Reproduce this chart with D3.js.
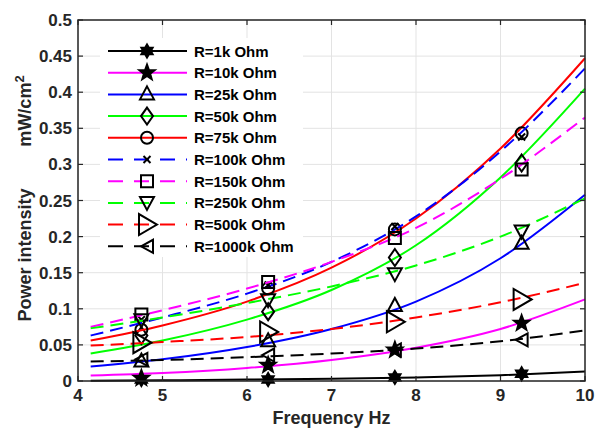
<!DOCTYPE html>
<html>
<head>
<meta charset="utf-8">
<script src="https://cdn.jsdelivr.net/npm/d3@7"></script>
<style>
  html, body { margin: 0; padding: 0; background: #fff; }
  svg text { font-family: "Liberation Sans", Arial, sans-serif; font-weight: bold; }
</style>
</head>
<body>
<svg id="chart" width="595" height="428"></svg>
<script>
// Fitted curves, sampled along the frequency axis (Hz)
const curveFreqs = [4.15, 5, 6, 7, 8, 9, 10];
const r1k    = [0.0005, 0.001, 0.002, 0.003, 0.005, 0.008, 0.013];
const r10k   = [0.0075, 0.011, 0.018, 0.029, 0.046, 0.072, 0.113];
const r25k   = [0.020, 0.030, 0.047, 0.072, 0.110, 0.170, 0.258];
const r50k   = [0.038, 0.056, 0.085, 0.126, 0.188, 0.282, 0.405];
const r75k   = [0.056, 0.077, 0.110, 0.157, 0.225, 0.322, 0.447];
const r100k  = [0.063, 0.088, 0.121, 0.165, 0.228, 0.318, 0.433];
const r150k  = [0.075, 0.098, 0.128, 0.165, 0.212, 0.280, 0.365];
const r250k  = [0.073, 0.088, 0.108, 0.131, 0.160, 0.200, 0.253];
const r500k  = [0.049, 0.054, 0.061, 0.072, 0.088, 0.109, 0.136];
const r1000k = [0.027, 0.029, 0.033, 0.038, 0.045, 0.055, 0.070];

// Measured points
const pointFreqs = [4.75, 6.25, 7.75, 9.25];
const p1k    = [0.002, 0.002, 0.005, 0.010];
const p10k   = [0.004, 0.022, 0.043, 0.080];
const p25k   = [0.027, 0.055, 0.104, 0.190];
const p50k   = [0.063, 0.096, 0.171, 0.302];
const p75k   = [0.071, 0.128, 0.210, 0.343];
const p100k  = [0.085, 0.133, 0.214, 0.338];
const p150k  = [0.092, 0.137, 0.198, 0.293];
const p250k  = [0.084, 0.112, 0.148, 0.207];
const p500k  = [0.053, 0.068, 0.082, 0.113];
const p1000k = [0.030, 0.036, 0.043, 0.057];

const seriesNames = ["R=1k Ohm", "R=10k Ohm", "R=25k Ohm", "R=50k Ohm", "R=75k Ohm",
                     "R=100k Ohm", "R=150k Ohm", "R=250k Ohm", "R=500k Ohm", "R=1000k Ohm"];
const xTicks = [4, 5, 6, 7, 8, 9, 10];
const yTicks = [0, 0.05, 0.1, 0.15, 0.2, 0.25, 0.3, 0.35, 0.4, 0.45, 0.5];
const xLabel = "Frequency Hz";

const curves = [r1k, r10k, r25k, r50k, r75k, r100k, r150k, r250k, r500k, r1000k];
const points = [p1k, p10k, p25k, p50k, p75k, p100k, p150k, p250k, p500k, p1000k];
const colors = ["#000000", "#ff00ff", "#0000ff", "#00ff00", "#ff0000",
                "#0000ff", "#ff00ff", "#00ff00", "#ff0000", "#000000"];
const dashed = [false, false, false, false, false, true, true, true, true, true];
const markers = ["hexagram", "pentagram", "triUp", "diamond", "circle",
                 "cross", "square", "triDown", "triRight", "triLeft"];

const svg = d3.select("#chart");
const m = { left: 78, right: 585, top: 20, bottom: 381 };
const x = d3.scaleLinear().domain([4, 10]).range([m.left, m.right]);
const y = d3.scaleLinear().domain([0, 0.5]).range([m.bottom, m.top]);

// grid
const grid = svg.append("g");
grid.selectAll("line.gx").data(xTicks).join("line")
  .attr("x1", d => x(d)).attr("x2", d => x(d))
  .attr("y1", m.top).attr("y2", m.bottom)
  .attr("stroke", "#e3e3e3").attr("stroke-width", 1);
grid.selectAll("line.gy").data(yTicks).join("line")
  .attr("x1", m.left).attr("x2", m.right)
  .attr("y1", d => y(d)).attr("y2", d => y(d))
  .attr("stroke", "#e3e3e3").attr("stroke-width", 1);

// marker shapes (black outlines)
function markerPath(type) {
  const p = d3.path();
  switch (type) {
    case "circle": p.arc(0, 0, 6, 0, 2 * Math.PI); break;
    case "square": p.rect(-6, -6, 12, 12); break;
    case "diamond": p.moveTo(0, -8.5); p.lineTo(6, 0); p.lineTo(0, 8.5); p.lineTo(-6, 0); p.closePath(); break;
    case "triUp": p.moveTo(0, -8); p.lineTo(7, 5); p.lineTo(-7, 5); p.closePath(); break;
    case "triDown": p.moveTo(0, 7); p.lineTo(7, -6); p.lineTo(-7, -6); p.closePath(); break;
    case "triRight": p.moveTo(10, 0); p.lineTo(-8, -10.5); p.lineTo(-8, 10.5); p.closePath(); break;
    case "triLeft": p.moveTo(-6, 0); p.lineTo(6, -6.5); p.lineTo(6, 6.5); p.closePath(); break;
    case "cross": p.moveTo(-3.5, -3.5); p.lineTo(3.5, 3.5); p.moveTo(3.5, -3.5); p.lineTo(-3.5, 3.5); break;
    case "pentagram": {
      for (let i = 0; i < 10; i++) {
        const r = i % 2 === 0 ? 8 : 3.3;
        const a = -Math.PI / 2 + i * Math.PI / 5;
        if (i === 0) p.moveTo(r * Math.cos(a), r * Math.sin(a)); else p.lineTo(r * Math.cos(a), r * Math.sin(a));
      }
      p.closePath(); break;
    }
    case "hexagram": {
      for (let i = 0; i < 12; i++) {
        const r = i % 2 === 0 ? 6.5 : 3.8;
        const a = -Math.PI / 2 + i * Math.PI / 6;
        if (i === 0) p.moveTo(r * Math.cos(a), r * Math.sin(a)); else p.lineTo(r * Math.cos(a), r * Math.sin(a));
      }
      p.closePath(); break;
    }
  }
  return p.toString();
}
const filledMarker = t => t === "pentagram" || t === "hexagram";

function drawMarker(g, type, cx, cy) {
  g.append("path")
    .attr("d", markerPath(type))
    .attr("transform", `translate(${cx},${cy})`)
    .attr("fill", filledMarker(type) ? "#000" : "none")
    .attr("stroke", "#000")
    .attr("stroke-width", 2)
    .attr("stroke-linejoin", "miter");
}

const line = d3.line().x(d => x(d[0])).y(d => y(d[1])).curve(d3.curveMonotoneX);
const plot = svg.append("g");
curves.forEach((vals, i) => {
  const g = plot.append("g");
  g.append("path")
    .datum(curveFreqs.map((f, j) => [f, vals[j]]))
    .attr("d", line)
    .attr("fill", "none")
    .attr("stroke", colors[i])
    .attr("stroke-width", 2)
    .attr("stroke-dasharray", dashed[i] ? "13,7" : null);
  pointFreqs.forEach((f, j) => drawMarker(g, markers[i], x(f), y(points[i][j])));
});

// axes box and ticks
const axes = svg.append("g");
axes.append("rect")
  .attr("x", m.left).attr("y", m.top)
  .attr("width", m.right - m.left).attr("height", m.bottom - m.top)
  .attr("fill", "none").attr("stroke", "#262626").attr("stroke-width", 1.5);
const tl = 5;
xTicks.forEach(t => {
  axes.append("line").attr("x1", x(t)).attr("x2", x(t)).attr("y1", m.bottom).attr("y2", m.bottom - tl).attr("stroke", "#262626").attr("stroke-width", 1.2);
  axes.append("line").attr("x1", x(t)).attr("x2", x(t)).attr("y1", m.top).attr("y2", m.top + tl).attr("stroke", "#262626").attr("stroke-width", 1.2);
});
yTicks.forEach(t => {
  axes.append("line").attr("x1", m.left).attr("x2", m.left + tl).attr("y1", y(t)).attr("y2", y(t)).attr("stroke", "#262626").attr("stroke-width", 1.2);
  axes.append("line").attr("x1", m.right).attr("x2", m.right - tl).attr("y1", y(t)).attr("y2", y(t)).attr("stroke", "#262626").attr("stroke-width", 1.2);
});
axes.selectAll("text.xt").data(xTicks).join("text")
  .attr("x", d => x(d)).attr("y", m.bottom + 20)
  .attr("text-anchor", "middle").attr("font-size", 17).attr("fill", "#262626")
  .text(d => d);
axes.selectAll("text.yt").data(yTicks).join("text")
  .attr("x", m.left - 6).attr("y", d => y(d) + 6)
  .attr("text-anchor", "end").attr("font-size", 17).attr("fill", "#262626")
  .text(d => d);

// axis titles
svg.append("text").attr("x", x(7)).attr("y", 424)
  .attr("text-anchor", "middle").attr("font-size", 18).attr("fill", "#262626")
  .text(xLabel);
svg.append("text").attr("transform", "translate(31,255) rotate(-90)")
  .attr("text-anchor", "middle").attr("font-size", 18).attr("fill", "#262626")
  .text("Power intensity");
const unit = svg.append("text").attr("transform", "translate(31,111) rotate(-90)")
  .attr("text-anchor", "middle").attr("font-size", 18).attr("fill", "#262626");
unit.append("tspan").text("mW/cm");
unit.append("tspan").attr("dy", -7).attr("font-size", 13).text("2");

// legend
const lg = svg.append("g");
lg.append("rect").attr("x", 100).attr("y", 38).attr("width", 203).attr("height", 219).attr("fill", "#fff");
seriesNames.forEach((name, i) => {
  const ly = 51 + i * 21.7;
  const row = lg.append("g");
  row.append("line").attr("x1", 108).attr("x2", 187).attr("y1", ly).attr("y2", ly)
    .attr("stroke", colors[i]).attr("stroke-width", 2)
    .attr("stroke-dasharray", dashed[i] ? "15,11" : null);
  drawMarker(row, markers[i], 147, ly);
  row.append("text").attr("x", 194).attr("y", ly + 5.5)
    .attr("font-size", 15).attr("fill", "#000").text(name);
});
</script>
</body>
</html>
